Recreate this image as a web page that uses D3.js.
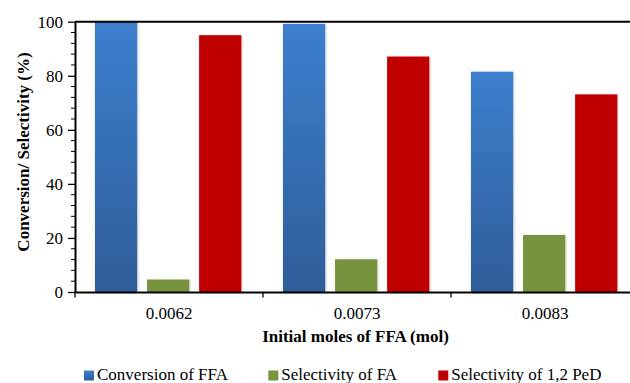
<!DOCTYPE html>
<html>
<head>
<meta charset="utf-8">
<script src="https://cdn.jsdelivr.net/npm/d3@7"></script>
<style>
  html, body { margin: 0; padding: 0; background: #fff; }
  svg { display: block; }
</style>
</head>
<body>
<svg id="chart" width="630" height="383"></svg>
<script>
// Initial moles of FFA (mol)
const categories = ["0.0062", "0.0073", "0.0083"];
const seriesNames = ["Conversion of FFA", "Selectivity of FA", "Selectivity of 1,2 PeD"];
const conversionFFA = [100, 99.2, 81.5];
const selectivityFA = [4.6, 12.1, 21.1];
const selectivityPeD = [95, 87.1, 73.1];
const yTicks = [0, 20, 40, 60, 80, 100];

const seriesValues = [conversionFFA, selectivityFA, selectivityPeD];
const seriesFill = ["url(#blueGrad)", "#77933C", "#C00000"];
const FONT = "Liberation Serif";

const svg = d3.select("#chart")
  .attr("font-family", FONT);
const plotLeft = 75, plotRight = 639, plotTop = 21.7, plotBottom = 292;

const defs = svg.append("defs");
const grad = defs.append("linearGradient")
  .attr("id", "blueGrad").attr("x1", 0).attr("y1", 0).attr("x2", 0).attr("y2", 1);
grad.append("stop").attr("offset", "0%").attr("stop-color", "#3C7FCE");
grad.append("stop").attr("offset", "100%").attr("stop-color", "#2E5D99");

const shadow = defs.append("filter").attr("id", "barShadow")
  .attr("x", "-20%").attr("y", "-5%").attr("width", "140%").attr("height", "110%");
shadow.append("feDropShadow").attr("dx", 0.6).attr("dy", 0.6)
  .attr("stdDeviation", 0.9).attr("flood-color", "#000").attr("flood-opacity", 0.28);

const x = d3.scaleBand().domain(categories).range([plotLeft, plotRight]).padding(0);
const xs = d3.scaleBand().domain(d3.range(seriesNames.length))
  .range([20, 166.3]).paddingInner(0.19).paddingOuter(0);
const y = d3.scaleLinear().domain([0, 100]).range([plotBottom, plotTop]);

// bars
const groups = svg.append("g").selectAll("g")
  .data(categories).join("g")
  .attr("transform", c => `translate(${x(c)},0)`);

groups.selectAll("rect")
  .data((c, i) => seriesValues.map((vals, s) => ({ s, v: vals[i] })))
  .join("rect")
  .attr("x", d => xs(d.s))
  .attr("width", xs.bandwidth())
  .attr("y", d => y(d.v))
  .attr("height", d => y(0) - y(d.v))
  .attr("fill", d => seriesFill[d.s])
  .attr("filter", "url(#barShadow)");

// top frame line
svg.append("line")
  .attr("x1", plotLeft).attr("x2", 630)
  .attr("y1", plotTop).attr("y2", plotTop)
  .attr("stroke", "#000").attr("stroke-width", 2);

// y axis: minor ticks every 4, major every 20
const minor = d3.range(0, 101, 4).filter(v => v % 20 !== 0);
svg.append("g").selectAll("line").data(minor).join("line")
  .attr("x1", plotLeft - 4).attr("x2", plotLeft)
  .attr("y1", d => y(d)).attr("y2", d => y(d))
  .attr("stroke", "#000").attr("stroke-width", 1);

const yAxis = svg.append("g")
  .attr("transform", `translate(${plotLeft},0)`)
  .call(d3.axisLeft(y).tickValues(yTicks).tickSize(7).tickPadding(5).tickSizeOuter(0))
  .attr("font-family", FONT).attr("font-size", 17);
yAxis.select(".domain").attr("stroke-width", 2);
yAxis.selectAll(".tick line").attr("stroke-width", 1.3);
yAxis.selectAll(".tick text").attr("fill", "#000");

// x axis with ticks on category boundaries
const xAxis = svg.append("g")
  .attr("transform", `translate(0,${plotBottom})`)
  .call(d3.axisBottom(x).tickSize(0).tickPadding(15).tickSizeOuter(0))
  .attr("font-family", FONT).attr("font-size", 17);
xAxis.select(".domain").attr("stroke-width", 2.2);
xAxis.selectAll(".tick text").attr("fill", "#000");
svg.append("g").selectAll("line")
  .data(categories.map(c => x(c)))
  .join("line")
  .attr("x1", d => d).attr("x2", d => d)
  .attr("y1", plotBottom).attr("y2", plotBottom + 5.5)
  .attr("stroke", "#000").attr("stroke-width", 1.3);

// axis titles
svg.append("text")
  .attr("x", 355.5).attr("y", 342)
  .attr("text-anchor", "middle")
  .attr("font-weight", "bold").attr("font-size", 17)
  .text("Initial moles of FFA (mol)");

svg.append("text")
  .attr("transform", "translate(29,152) rotate(-90)")
  .attr("text-anchor", "middle")
  .attr("font-weight", "bold").attr("font-size", 17)
  .text("Conversion/ Selectivity (%)");

// legend
const legendX = [84, 268.3, 438.3];
const legend = svg.append("g").selectAll("g")
  .data(seriesNames).join("g")
  .attr("transform", (d, i) => `translate(${legendX[i]},370.5)`);
legend.append("rect")
  .attr("width", 10).attr("height", 10)
  .attr("fill", (d, i) => seriesFill[i]);
legend.append("text")
  .attr("x", 13).attr("y", 9.8)
  .attr("font-size", 17)
  .text(d => d);
</script>
</body>
</html>
